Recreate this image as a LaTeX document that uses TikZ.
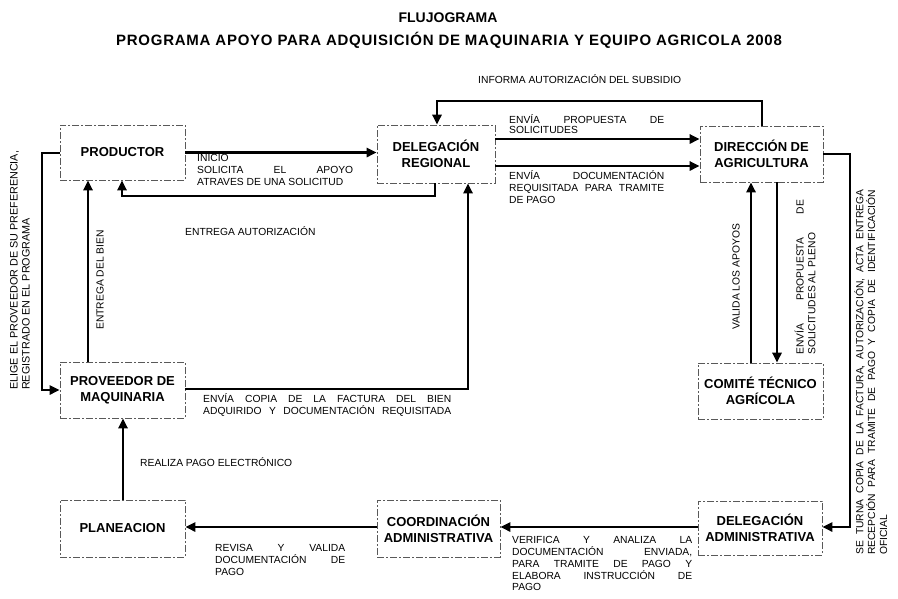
\documentclass[tikz,border=0pt]{standalone}
\usepackage{fontspec}
\setmainfont{Liberation Sans}
\usetikzlibrary{arrows.meta}
\newcommand{\jl}[2]{\makebox[#1][s]{#2}}
\begin{document}
\begin{tikzpicture}[x=1pt,y=-1pt,
  box/.style={draw=black!65, line width=0.6pt, dash pattern=on 7pt off 2pt on 2pt off 2pt,
    inner sep=0pt, align=center, font=\fontsize{13}{16}\selectfont\bfseries},
  flow/.style={line width=2.7pt, -{Triangle[length=10pt,width=9pt]}},
  lbl/.style={inner sep=0pt, align=left, font=\fontsize{10.3}{11.8}\selectfont},
  rlbl/.style={lbl, rotate=90, anchor=north west},
  ttl/.style={inner sep=0pt, font=\fontsize{14}{16}\selectfont\bfseries}
]
\useasboundingbox (0,0) rectangle (898,598);
\fill[white] (0,0) rectangle (898,598);

% titles
\node[ttl] (t1) at (448,18) {FLUJOGRAMA};
\node[ttl, anchor=base, font=\fontsize{15}{17}\selectfont\bfseries\addfontfeature{LetterSpace=5}] (t2) at (449,45.4)
  {PROGRAMA APOYO PARA ADQUISICIÓN DE MAQUINARIA Y EQUIPO AGRICOLA 2008};

% boxes
\node[box, minimum width=125pt, minimum height=55pt] (prod) at (122.5,152.5) {PRODUCTOR};
\node[box, minimum width=118pt, minimum height=58pt] (delreg) at (436,154) {DELEGACIÓN\\REGIONAL};
\node[box, minimum width=123pt, minimum height=56pt] (dir) at (761.5,154) {DIRECCIÓN DE\\AGRICULTURA};
\node[box, minimum width=125pt, minimum height=56pt] (comite) at (760.5,391) {COMITÉ TÉCNICO\\AGRÍCOLA};
\node[box, minimum width=125pt, minimum height=56pt] (prov) at (122.5,390) {PROVEEDOR DE\\MAQUINARIA};
\node[box, minimum width=125pt, minimum height=57pt] (plan) at (122.5,528.5) {PLANEACION};
\node[box, minimum width=123pt, minimum height=57pt] (coord) at (438.5,528.5) {COORDINACIÓN\\ADMINISTRATIVA};
\node[box, minimum width=124pt, minimum height=54pt] (deladm) at (760,528) {DELEGACIÓN\\ADMINISTRATIVA};

% bend coordinates
\coordinate (b2a) at (435,196);
\coordinate (b2b) at (122,196);
\coordinate (b3) at (88,0);
\coordinate (b4a) at (42,153);
\coordinate (b4b) at (42,390);
\coordinate (b5a) at (468,389);
\coordinate (b6a) at (0,139);
\coordinate (b6b) at (0,166);
\coordinate (b7a) at (762,101);
\coordinate (b7b) at (437,101);
\coordinate (b8) at (777,0);
\coordinate (b9) at (751,0);
\coordinate (b10a) at (850,154);
\coordinate (b10b) at (850,527);
\coordinate (b13) at (123,0);

% connectors
\draw[flow] (prod.east) -- (delreg.west |- prod.east);
\draw[flow] (delreg.south -| b2a) -- (b2a) -- (b2b) -- (prod.south -| b2b);
\draw[flow] (prov.north -| b3) -- (prod.south -| b3);
\draw[flow] (prod.west |- b4a) -- (b4a) -- (b4b) -- (prov.west |- b4b);
\draw[flow] (prov.east |- b5a) -- (b5a) -- (delreg.south -| b5a);
\draw[flow] (delreg.east |- b6a) -- (dir.west |- b6a);
\draw[flow] (delreg.east |- b6b) -- (dir.west |- b6b);
\draw[flow] (dir.north -| b7a) -- (b7a) -- (b7b) -- (delreg.north -| b7b);
\draw[flow] (dir.south -| b8) -- (comite.north -| b8);
\draw[flow] (comite.north -| b9) -- (dir.south -| b9);
\draw[flow] (dir.east |- b10a) -- (b10a) -- (b10b) -- (deladm.east |- b10b);
\draw[flow] (deladm.west |- b10b) -- (coord.east |- b10b);
\draw[flow] (coord.west |- b10b) -- (plan.east |- b10b);
\draw[flow] (plan.north -| b13) -- (prov.south -| b13);

% labels
\node[lbl, anchor=north west] (l1) at (197,154.3)
  {INICIO\\\jl{156pt}{SOLICITA EL APOYO}\\ATRAVES DE UNA SOLICITUD};
\node[lbl, anchor=base west] (l2) at (185,235.7) {ENTREGA AUTORIZACIÓN};
\node[lbl, anchor=base west] (l3) at (478,83.7) {INFORMA AUTORIZACIÓN DEL SUBSIDIO};
\node[lbl, anchor=north west] (l4) at (509,114.4)
  {\jl{155pt}{ENVÍA PROPUESTA DE}\\[-1.5pt]SOLICITUDES};
\node[lbl, anchor=north west] (l5) at (509,170.4)
  {\jl{155pt}{ENVÍA DOCUMENTACIÓN}\\\jl{155pt}{REQUISITADA PARA TRAMITE}\\DE PAGO};
\node[lbl, anchor=north west] (l6) at (203,393.4)
  {\jl{248pt}{ENVÍA COPIA DE LA FACTURA DEL BIEN}\\\jl{248pt}{ADQUIRIDO Y DOCUMENTACIÓN REQUISITADA}};
\node[lbl, anchor=base west] (l7) at (140,466.7) {REALIZA PAGO ELECTRÓNICO};
\node[lbl, anchor=north west] (l8) at (215,544.3)
  {\jl{130pt}{REVISA Y VALIDA}\\\jl{130pt}{DOCUMENTACIÓN DE}\\PAGO};
\node[lbl, anchor=north west] (l9) at (512,536.3)
  {\jl{180pt}{VERIFICA Y ANALIZA LA}\\\jl{180pt}{DOCUMENTACIÓN ENVIADA,}\\\jl{180pt}{PARA TRAMITE DE PAGO Y}\\\jl{180pt}{ELABORA INSTRUCCIÓN DE}\\PAGO};

% rotated labels
\node[rlbl, font=\fontsize{10.8}{12}\selectfont] (r1) at (10,390)
  {ELIGE EL PROVEEDOR DE SU PREFERENCIA,\\REGISTRADO EN EL PROGRAMA};
\node[rlbl] (r2) at (96.3,330) {ENTREGA DEL BIEN};
\node[rlbl] (r3) at (732.3,330) {VALIDA LOS APOYOS};
\node[rlbl] (r4) at (794.4,355)
  {\jl{155pt}{ENVÍA PROPUESTA DE}\\SOLICITUDES AL PLENO};
\node[rlbl] (r5) at (854.3,555)
  {\jl{365pt}{SE TURNA COPIA DE LA FACTURA, AUTORIZACIÓN, ACTA ENTREGA}\\\jl{365pt}{RECEPCIÓN PARA TRAMITE DE PAGO Y COPIA DE IDENTIFICACIÓN}\\OFICIAL};
\end{tikzpicture}
\end{document}
